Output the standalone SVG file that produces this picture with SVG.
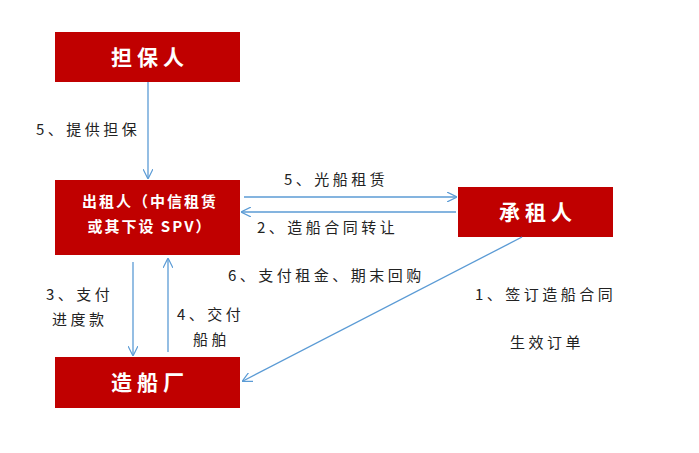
<svg xmlns="http://www.w3.org/2000/svg" width="699" height="453" viewBox="0 0 699 453">
<defs>
<marker id="a" viewBox="0 0 10 10" refX="9" refY="5" markerWidth="10" markerHeight="10" markerUnits="userSpaceOnUse" orient="auto"><path d="M0,0 L10,5 L0,10" fill="none" stroke="#5b9bd5" stroke-width="1.2"/></marker>
<style>
.b{fill:#c00000}
.w{fill:#fff;font-family:"Noto Sans CJK SC",sans-serif;font-size:21px;font-weight:bold;text-anchor:middle;letter-spacing:5px}
.w2{fill:#fff;font-family:"Noto Sans CJK SC",sans-serif;font-size:15px;font-weight:bold;text-anchor:middle;letter-spacing:2px}
.t{fill:#222;font-family:"Noto Sans CJK SC",sans-serif;font-size:15px;letter-spacing:3.5px}
.c{stroke:#5b9bd5;stroke-width:1.3;fill:none;marker-end:url(#a)}
</style>
</defs>
<rect width="699" height="453" fill="#fff"/>
<g id="guarantor"><rect class="b" x="55" y="32" width="185" height="50"/><text class="w" x="150" y="65">担保人</text></g>
<g id="lessor"><rect class="b" x="55" y="180" width="185" height="75"/><text class="w2" x="150" y="207">出租人（中信租赁</text><text class="w2" x="150" y="232">或其下设 SPV）</text></g>
<g id="shipyard"><rect class="b" x="55" y="357" width="185" height="51"/><text class="w" x="150" y="390">造船厂</text></g>
<g id="lessee"><rect class="b" x="458" y="187" width="155" height="50"/><text class="w" x="538" y="220">承租人</text></g>
<g id="connectors">
<line class="c" x1="148" y1="82" x2="148" y2="178"/>
<line class="c" x1="244" y1="197" x2="456" y2="197"/>
<line class="c" x1="456" y1="212" x2="242" y2="212"/>
<line class="c" x1="133" y1="262" x2="133" y2="355"/>
<line class="c" x1="168" y1="352" x2="168" y2="259"/>
<line class="c" x1="522" y1="237" x2="243" y2="381"/>
</g>
<g id="labels">
<text class="t" x="36" y="135">5、提供担保</text>
<text class="t" x="284" y="185">5、光船租赁</text>
<text class="t" x="257" y="233">2、造船合同转让</text>
<text class="t" x="228" y="281">6、支付租金、期末回购</text>
<text class="t" x="46" y="300">3、支付</text>
<text class="t" x="52" y="325">进度款</text>
<text class="t" x="177" y="320">4、交付</text>
<text class="t" x="193" y="345">船舶</text>
<text class="t" x="475" y="300">1、签订造船合同</text>
<text class="t" x="510" y="348">生效订单</text>
</g>
</svg>
